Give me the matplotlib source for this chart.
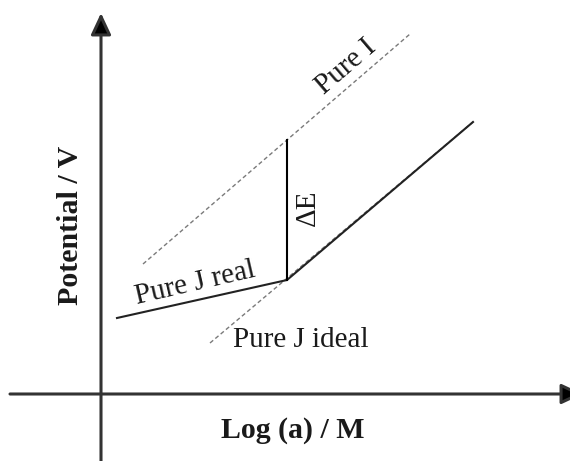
import matplotlib
matplotlib.use("Agg")
import matplotlib.pyplot as plt

plt.rcParams['font.family'] = ['Liberation Serif', 'DejaVu Serif']

# Schematic potential vs log(activity); units are arbitrary
pure_i_x = [0.42, 3.09]
pure_i_y = [1.30, 3.60]

pure_j_ideal_x = [1.09, 3.72]
pure_j_ideal_y = [0.51, 2.72]

pure_j_real_x = [0.16, 1.86, 3.72]
pure_j_real_y = [0.76, 1.14, 2.72]

delta_e_x = [1.86, 1.86]
delta_e_y = [1.14, 2.54]

fig = plt.figure(figsize=(5.70, 4.61), dpi=100)
ax = fig.add_axes([0, 0, 1, 1])
ax.set_xlim(-1.01, 4.69)
ax.set_ylim(-0.67, 3.94)
ax.axis('off')

axis_color = '#333333'
head = '-|>,head_length=0.6,head_width=0.28'
# Coordinate axes with arrow heads
ax.annotate('', xy=(0.0, 3.81), xytext=(0.0, -0.70), annotation_clip=False,
            arrowprops=dict(arrowstyle=head, color=axis_color, fc='black', lw=2.2,
                            mutation_scale=22, shrinkA=0, shrinkB=0))
ax.annotate('', xy=(4.82, 0.0), xytext=(-0.91, 0.0), annotation_clip=False,
            arrowprops=dict(arrowstyle=head, color=axis_color, fc='black', lw=2.2,
                            mutation_scale=22, shrinkA=0, shrinkB=0))

dash_color = '#7a7a7a'
ax.plot(pure_i_x, pure_i_y, color=dash_color, lw=1.0, ls=(0, (3, 2)))
ax.plot(pure_j_ideal_x, pure_j_ideal_y, color=dash_color, lw=1.0, ls=(0, (3, 2)))
ax.plot(pure_j_real_x, pure_j_real_y, color='#222222', lw=1.5)
ax.plot(delta_e_x, delta_e_y, color='black', lw=1.5)

fs = 21
fsb = 21.5
txt = '#1a1a1a'
ax.text(2.45, 3.27, 'Pure I', rotation=40.7, rotation_mode='anchor',
        ha='center', va='center', fontsize=fs, color=txt)
ax.text(2.07, 1.86, 'ΔE', rotation=90, rotation_mode='anchor',
        ha='center', va='center', fontsize=fs, color=txt)
ax.text(0.94, 1.11, 'Pure J real', rotation=13, rotation_mode='anchor',
        ha='center', va='center', fontsize=fs, color=txt)
ax.text(2.00, 0.54, 'Pure J ideal', ha='center', va='center',
        fontsize=fs, color=txt)
ax.text(1.92, -0.36, 'Log (a) / M', ha='center', va='center',
        fontsize=fsb, fontweight='bold', color=txt)
ax.text(-0.30, 1.69, 'Potential / V', rotation=90, rotation_mode='anchor',
        ha='center', va='center', fontsize=fsb, fontweight='bold', color=txt)

fig.savefig('out.png', dpi=100)
